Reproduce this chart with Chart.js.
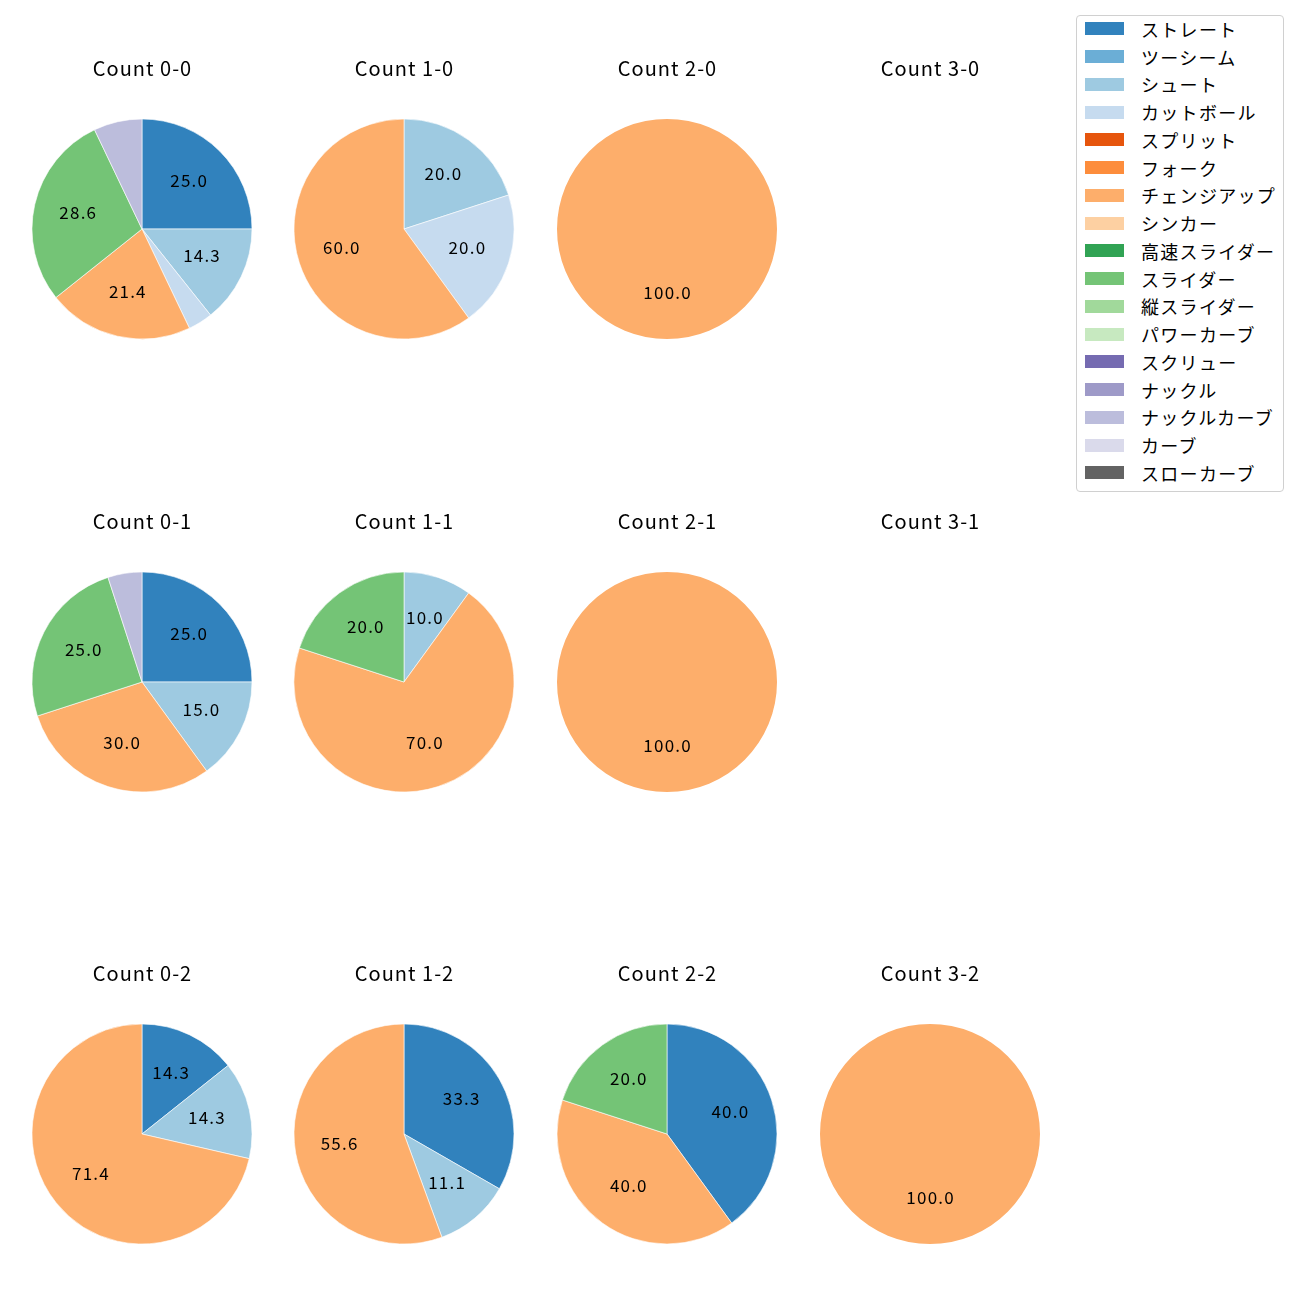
<!DOCTYPE html>
<html>
<head>
<meta charset="utf-8">
<script src="https://cdn.jsdelivr.net/npm/chart.js@4.4.1/dist/chart.umd.min.js"></script>
<style>
    body { margin: 0; background: #fff; font-family: "Noto Sans CJK JP", sans-serif; }
    #page { position: relative; width: 1300px; height: 1300px; }
    canvas { position: absolute; }
    #legend {
        position: absolute; left: 1076px; top: 15px; width: 208px; height: 477px;
        border: 1px solid #d0d0d0; border-radius: 4px; box-sizing: border-box;
    }
    #rows { margin-top: -1px; }
    .row { height: 27.75px; display: flex; align-items: center; font-size: 18px; letter-spacing: 1.3px; color: #000; }
    .sw { width: 39px; height: 13px; margin-left: 8px; margin-right: 17px; }
</style>
</head>
<body>
<div id="page">
    <div id="legend"><div id="rows"></div></div>
</div>
<script>
const pitchTypes = ['ストレート', 'ツーシーム', 'シュート', 'カットボール', 'スプリット', 'フォーク', 'チェンジアップ', 'シンカー',
    '高速スライダー', 'スライダー', '縦スライダー', 'パワーカーブ', 'スクリュー', 'ナックル', 'ナックルカーブ', 'カーブ', 'スローカーブ'];
const pitchColors = ['#3182bd', '#6baed6', '#9ecae1', '#c6dbef', '#e6550d', '#fd8d3c', '#fdae6b', '#fdd0a2',
    '#31a354', '#74c476', '#a1d99b', '#c7e9c0', '#756bb1', '#9e9ac8', '#bcbddc', '#dadaeb', '#636363'];

// percentages per count, same order as pitchTypes
const count00 = [25.0, 0, 14.3, 3.6, 0, 0, 21.4, 0, 0, 28.6, 0, 0, 0, 0, 7.1, 0, 0];
const count10 = [0, 0, 20.0, 20.0, 0, 0, 60.0, 0, 0, 0, 0, 0, 0, 0, 0, 0, 0];
const count20 = [0, 0, 0, 0, 0, 0, 100.0, 0, 0, 0, 0, 0, 0, 0, 0, 0, 0];
const count30 = [0, 0, 0, 0, 0, 0, 0, 0, 0, 0, 0, 0, 0, 0, 0, 0, 0];
const count01 = [25.0, 0, 15.0, 0, 0, 0, 30.0, 0, 0, 25.0, 0, 0, 0, 0, 5.0, 0, 0];
const count11 = [0, 0, 10.0, 0, 0, 0, 70.0, 0, 0, 20.0, 0, 0, 0, 0, 0, 0, 0];
const count21 = [0, 0, 0, 0, 0, 0, 100.0, 0, 0, 0, 0, 0, 0, 0, 0, 0, 0];
const count31 = [0, 0, 0, 0, 0, 0, 0, 0, 0, 0, 0, 0, 0, 0, 0, 0, 0];
const count02 = [14.3, 0, 14.3, 0, 0, 0, 71.4, 0, 0, 0, 0, 0, 0, 0, 0, 0, 0];
const count12 = [33.3, 0, 11.1, 0, 0, 0, 55.6, 0, 0, 0, 0, 0, 0, 0, 0, 0, 0];
const count22 = [40.0, 0, 0, 0, 0, 0, 40.0, 0, 0, 20.0, 0, 0, 0, 0, 0, 0, 0];
const count32 = [0, 0, 0, 0, 0, 0, 100.0, 0, 0, 0, 0, 0, 0, 0, 0, 0, 0];

const countNames = ['0-0', '1-0', '2-0', '3-0', '0-1', '1-1', '2-1', '3-1', '0-2', '1-2', '2-2', '3-2'];
const countValues = [count00, count10, count20, count30, count01, count11, count21, count31, count02, count12, count22, count32];

const colX = [142, 404, 667, 930];
const rowY = [229, 682, 1134];

const page = document.getElementById('page');
const rows = document.getElementById('rows');

pitchTypes.forEach((name, i) => {
    const row = document.createElement('div');
    row.className = 'row';
    row.innerHTML = '<span class="sw" style="background:' + pitchColors[i] + '"></span><span>' + name + '</span>';
    rows.appendChild(row);
});

// percent labels + subplot title
const pieText = {
    id: 'pieText',
    afterDatasetsDraw(chart, args, opts) {
        const ctx = chart.ctx;
        ctx.save();
        ctx.textAlign = 'center';
        ctx.textBaseline = 'middle';
        ctx.fillStyle = '#000';
        const meta = chart.getDatasetMeta(0);
        ctx.font = '17px "Noto Sans CJK JP", sans-serif';
        ctx.letterSpacing = '1.2px';
        meta.data.forEach((arc, i) => {
            const v = chart.data.datasets[0].data[i];
            if (v < 10) return;
            const p = arc.getProps(['x', 'y', 'startAngle', 'endAngle', 'outerRadius'], true);
            const mid = (p.startAngle + p.endAngle) / 2;
            const r = p.outerRadius * 0.6;
            ctx.fillText(v.toFixed(1), p.x + Math.cos(mid) * r + 0.6, p.y + Math.sin(mid) * r - 2);
        });
        ctx.font = '20px "Noto Sans CJK JP", sans-serif';
        ctx.letterSpacing = '1px';
        ctx.fillText(opts.title, chart.width / 2 + 0.5, 19);
        ctx.restore();
    }
};

countNames.forEach((name, k) => {
    const cx = colX[k % 4];
    const cy = rowY[Math.floor(k / 4)];
    const canvas = document.createElement('canvas');
    canvas.width = 260;
    canvas.height = 300;
    canvas.style.left = (cx - 130) + 'px';
    canvas.style.top = (cy - 180) + 'px';
    page.appendChild(canvas);

    const vals = countValues[k];
    const labels = [], data = [], colors = [];
    vals.forEach((v, i) => {
        if (v > 0) {
            labels.push(pitchTypes[i]);
            data.push(v);
            colors.push(pitchColors[i]);
        }
    });

    new Chart(canvas.getContext('2d'), {
        type: 'pie',
        data: {
            labels: labels,
            datasets: [{
                data: data,
                backgroundColor: colors,
                borderColor: '#ffffff',
                borderWidth: data.length > 1 ? 0.6 : 0,
                hoverOffset: 0,
                radius: 110
            }]
        },
        options: {
            responsive: false,
            animation: false,
            events: [],
            layout: { padding: { top: 70, bottom: 10, left: 20, right: 20 } },
            plugins: {
                legend: { display: false },
                tooltip: { enabled: false },
                pieText: { title: 'Count ' + name }
            }
        },
        plugins: [pieText]
    });
});
</script>
</body>
</html>
